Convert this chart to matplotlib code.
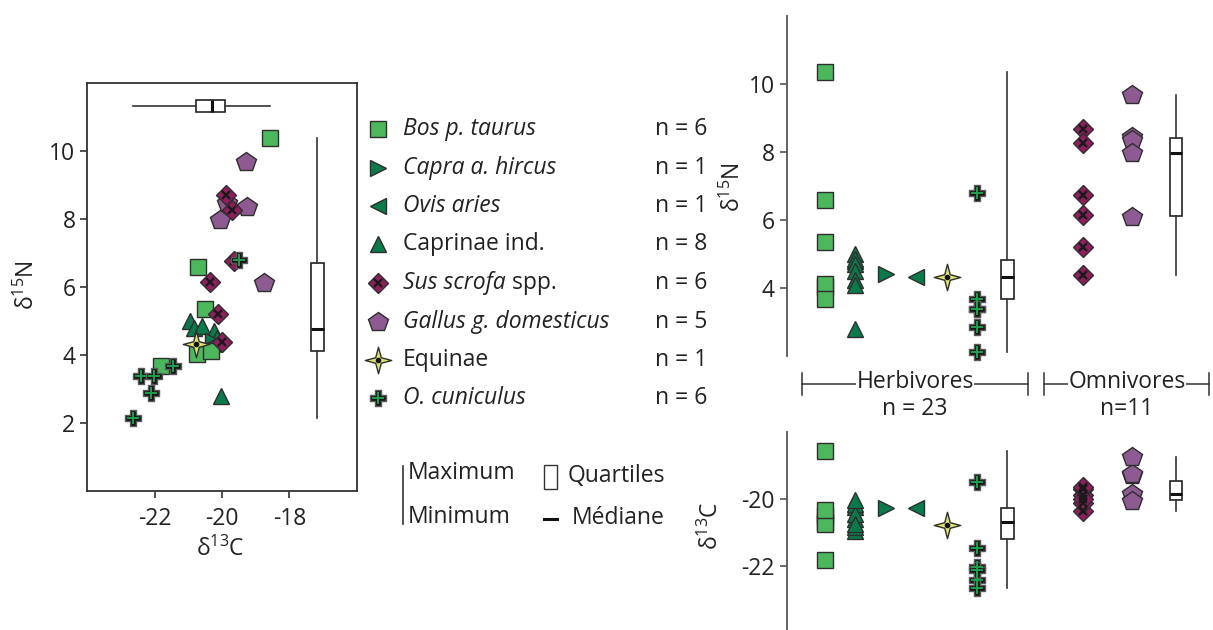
import numpy as np
import matplotlib.pyplot as plt
from matplotlib.path import Path
from matplotlib.patches import Rectangle

plt.rcParams['font.family'] = ['Open Sans', 'DejaVu Sans']
plt.rcParams['mathtext.default'] = 'regular'
plt.rcParams['axes.unicode_minus'] = False

# --- data (d13C, d15N per taxon) ---
bos_c = [-18.56, -20.70, -20.50, -20.74, -20.34, -21.81]
bos_n = [10.36, 6.59, 5.34, 4.02, 4.12, 3.67]
capra_c = [-20.28]
capra_n = [4.40]
ovis_c = [-20.26]
ovis_n = [4.32]
caprinae_c = [-20.94, -20.84, -20.59, -20.25, -20.15, -20.45, -20.75, -20.04]
caprinae_n = [5.00, 4.80, 4.85, 4.70, 4.50, 4.25, 4.10, 2.80]
sus_c = [-19.89, -19.71, -19.65, -20.37, -20.13, -20.00]
sus_n = [8.69, 8.26, 6.75, 6.14, 5.20, 4.38]
gallus_c = [-19.30, -19.85, -19.27, -20.05, -18.74]
gallus_n = [9.68, 8.45, 8.35, 7.96, 6.10]
equinae_c = [-20.77]
equinae_n = [4.31]
cun_c = [-19.50, -21.45, -22.42, -22.03, -22.11, -22.64]
cun_n = [6.79, 3.67, 3.37, 3.37, 2.86, 2.13]

legend_names = ['Bos p. taurus', 'Capra a. hircus', 'Ovis aries', 'Caprinae ind.',
                'Sus scrofa', 'Gallus g. domesticus', 'Equinae', 'O. cuniculus']
legend_n = ['n = 6', 'n = 1', 'n = 1', 'n = 8', 'n = 6', 'n = 5', 'n = 1', 'n = 6']

# --- marker styles ---
edge = '#2e2e2e'
r = 0.3
star = Path([(0, 1), (r * 0.7, r * 0.7), (1, 0), (r * 0.7, -r * 0.7), (0, -1),
             (-r * 0.7, -r * 0.7), (-1, 0), (-r * 0.7, r * 0.7), (0, 1)], closed=True)
a = 0.4
cross = Path([(-a, 1), (a, 1), (a, a), (1, a), (1, -a), (a, -a), (a, -1), (-a, -1),
              (-a, -a), (-1, -a), (-1, a), (-a, a), (-a, 1)], closed=True)
styles = {
    'bos': dict(marker='s', ms=11, fc='#4cb85b'),
    'capra': dict(marker='>', ms=12, fc='#0b7a4a'),
    'ovis': dict(marker='<', ms=12, fc='#0b7a4a'),
    'caprinae': dict(marker='^', ms=12, fc='#0b7a4a'),
    'sus': dict(marker='D', ms=10, fc='#8c1f5c'),
    'gallus': dict(marker='p', ms=15, fc='#8e5a92'),
    'equinae': dict(marker=star, ms=19, fc='#dfe56c'),
    'cun': dict(marker=cross, ms=12, fc='#161616'),
}


def draw_group(ax, x, y, key, zo):
    st = styles[key]
    ax.plot(x, y, ls='none', marker=st['marker'], ms=st['ms'], mfc=st['fc'],
            mec=edge if key != 'cun' else '#5a5a5a', mew=1, zorder=zo, clip_on=False)
    if key == 'sus':
        ax.plot(x, y, ls='none', marker='x', ms=5.5, mec='#1a1a1a', mew=1.7, zorder=zo + 0.1, clip_on=False)
    if key == 'cun':
        ax.plot(x, y, ls='none', marker='+', ms=8, mec='#1f9e4c', mew=1.4, zorder=zo + 0.1, clip_on=False)
    if key == 'equinae':
        ax.plot(x, y, ls='none', marker='o', ms=3, mfc='#111111', mec='#111111', zorder=zo + 0.1, clip_on=False)


W, H = 1213, 630
fig = plt.figure(figsize=(W / 100, H / 100), dpi=100)


def px_axes(x0, y0, x1, y1):
    return fig.add_axes([x0 / W, 1 - y1 / H, (x1 - x0) / W, (y1 - y0) / H])


over = px_axes(0, 0, W, H)
over.set_xlim(0, W)
over.set_ylim(H, 0)
over.axis('off')

box_kw = dict(whis=(0, 100), patch_artist=True, showcaps=False, showfliers=False,
              manage_ticks=False,
              boxprops=dict(facecolor='white', edgecolor='#222222', linewidth=1.2),
              whiskerprops=dict(color='#333333', linewidth=1.2),
              medianprops=dict(color='#111111', linewidth=2.2))

groups = [('caprinae', caprinae_c, caprinae_n), ('capra', capra_c, capra_n),
          ('ovis', ovis_c, ovis_n), ('bos', bos_c, bos_n), ('gallus', gallus_c, gallus_n),
          ('sus', sus_c, sus_n), ('equinae', equinae_c, equinae_n), ('cun', cun_c, cun_n)]

fs = 16.5
txt = '#222222'

# --- left biplot ---
ax1 = px_axes(87.3, 82.7, 356.7, 490.7)
for i, (k, c, n) in enumerate(groups):
    draw_group(ax1, c, n, k, 3 + i)
all_c = np.concatenate([g[1] for g in groups])
all_n = np.concatenate([g[2] for g in groups])
ax1.boxplot(all_n, positions=[-17.17], widths=0.38, **box_kw)
ax1.boxplot(all_c, positions=[11.31], widths=0.37, orientation='horizontal', **box_kw)
ax1.set_xlim(-24, -16)
ax1.set_ylim(0, 12)
ax1.set_xticks([-22, -20, -18])
ax1.set_yticks([2, 4, 6, 8, 10])
for s in ax1.spines.values():
    s.set_color('#333333')
    s.set_linewidth(1.3)
ax1.tick_params(direction='out', length=5, width=1.2, color='#333333', labelsize=fs,
                labelcolor=txt)
ax1.tick_params(axis='x', pad=7)

over.text(27, 285, 'δ$^{15}$N', rotation=90, ha='center', va='center', fontsize=fs, color=txt)
over.text(220, 549, 'δ$^{13}$C', ha='center', va='center', fontsize=fs, color=txt)

# --- legend ---
rows = [129.3, 167.7, 206, 244.3, 282.7, 321.7, 360, 398.3]
keys = ['bos', 'capra', 'ovis', 'caprinae', 'sus', 'gallus', 'equinae', 'cun']
for y, k, name, nn in zip(rows, keys, legend_names, legend_n):
    draw_group(over, [378], [y], k, 5)
    italic = k not in ('caprinae', 'equinae')
    t = over.text(403, y, name, ha='left', va='center', fontsize=fs,
                  style='italic' if italic else 'normal', color=txt)
    if k == 'sus':
        over.annotate(' spp.', xy=(1, 0.5), xycoords=t, ha='left', va='center',
                      fontsize=fs, color=txt)
    over.text(655, y, nn, ha='left', va='center', fontsize=fs, color=txt)

# box legend
over.plot([402.7, 402.7], [466, 524], color='#333333', lw=1.2)
over.text(408, 473, 'Maximum', ha='left', va='center', fontsize=fs, color=txt)
over.text(408, 517, 'Minimum', ha='left', va='center', fontsize=fs, color=txt)
over.add_patch(Rectangle((543.5, 465), 13, 24, fc='white', ec='#333333', lw=1))
over.text(568, 476, 'Quartiles', ha='left', va='center', fontsize=fs, color=txt)
over.plot([543.5, 556.5], [519, 519], color='#111111', lw=2.2)
over.text(572, 518, 'Médiane', ha='left', va='center', fontsize=fs, color=txt)

# --- right panels ---
herb = [('bos', bos_c, bos_n, 1), ('caprinae', caprinae_c, caprinae_n, 2),
        ('capra', capra_c, capra_n, 3), ('ovis', ovis_c, ovis_n, 4),
        ('equinae', equinae_c, equinae_n, 5), ('cun', cun_c, cun_n, 6)]
omni = [('sus', sus_c, sus_n, 9.5), ('gallus', gallus_c, gallus_n, 11.1)]
herb_box_x, omni_box_x = 7, 12.55

ax2 = px_axes(786.7, 16, W, 356)
ax3 = px_axes(786.7, 431.7, W, 630)
for ax, idx in ((ax2, 2), (ax3, 1)):
    for i, g in enumerate(herb + omni):
        vals = g[idx]
        draw_group(ax, [g[3]] * len(vals), vals, g[0], 3 + i)
    hv = np.concatenate([g[idx] for g in herb])
    ov = np.concatenate([g[idx] for g in omni])
    ax.boxplot(hv, positions=[herb_box_x], widths=0.4, **box_kw)
    ax.boxplot(ov, positions=[omni_box_x], widths=0.4, **box_kw)
    ax.set_xlim(-0.26, 13.76)
    for s in ('top', 'right', 'bottom'):
        ax.spines[s].set_visible(False)
    ax.spines['left'].set_color('#555555')
    ax.spines['left'].set_linewidth(1.3)
    ax.set_xticks([])
    ax.tick_params(axis='y', direction='out', length=5, width=1.2, color='#555555',
                   labelsize=fs, labelcolor=txt)
ax2.set_ylim(2, 12)
ax2.set_yticks([4, 6, 8, 10])
ax3.set_ylim(-23.9, -18)
ax3.set_yticks([-22, -20])

over.text(733, 187, 'δ$^{15}$N', rotation=90, ha='center', va='center', fontsize=fs, color=txt)
over.text(711, 526, 'δ$^{13}$C', rotation=90, ha='center', va='center', fontsize=fs, color=txt)

# group brackets
for x0, x1, xm, label, ntxt in ((801.7, 1028.3, 915, 'Herbivores', 'n = 23'),
                                (1044, 1209.3, 1127, 'Omnivores', 'n=11')):
    over.plot([x0, x1], [383.5, 383.5], color='#333333', lw=1.1)
    over.plot([x0, x0], [373, 395], color='#333333', lw=1.1)
    over.plot([x1, x1], [373, 395], color='#333333', lw=1.1)
    over.text(xm, 382, label, ha='center', va='center', fontsize=fs, color=txt,
              bbox=dict(fc='white', ec='none', pad=0.3))
    over.text(xm, 409, ntxt, ha='center', va='center', fontsize=fs, color=txt)

fig.savefig('out.png', dpi=100)
